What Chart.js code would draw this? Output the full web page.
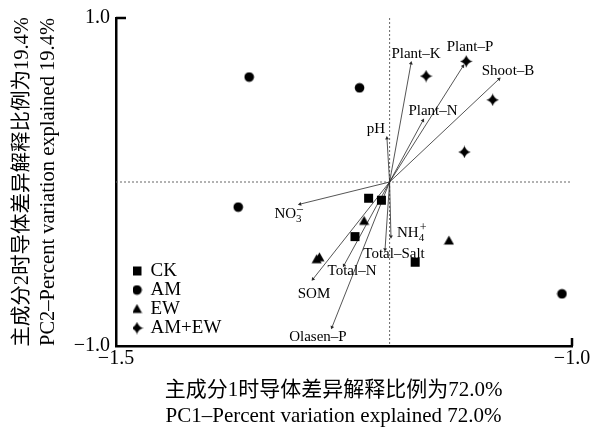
<!DOCTYPE html>
<html>
<head>
<meta charset="utf-8">
<script src="https://cdn.jsdelivr.net/npm/chart.js@4.4.0/dist/chart.umd.min.js"></script>
<style>
  body { margin: 0; background: #fff; }
  canvas { display: block; }
</style>
</head>
<body>
<canvas id="pca" width="592" height="437"></canvas>
<script>
// Sample scores per treatment (PC1, PC2)
const groups = ['CK', 'AM', 'EW', 'AM+EW'];
const ckPC1 = [-1.223, -1.209, -1.238, -1.172];
const ckPC2 = [-0.099, -0.111, -0.333, -0.489];
const amPC1 = [-1.354, -1.233, -1.366, -1.011];
const amPC2 = [0.640, 0.574, -0.153, -0.682];
const ewPC1 = [-1.228, -1.135, -1.280, -1.277];
const ewPC2 = [-0.237, -0.357, -0.471, -0.459];
const amewPC1 = [-1.116, -1.160, -1.087, -1.118];
const amewPC2 = [0.736, 0.646, 0.501, 0.183];

// Environmental loading vectors, drawn from the origin
const origin = [-1.2, 0];
const vecNames = ['Plant-K', 'Plant-P', 'Shoot-B', 'Plant-N', 'pH', 'NO3-', 'NH4+',
                  'Total-Salt', 'Total-N', 'SOM', 'Olasen-P'];
const vecPC1 = [-1.1765, -1.1195, -1.080, -1.1634, -1.2029, -1.2982, -1.1985,
                -1.2050, -1.250, -1.284, -1.2632];
const vecPC2 = [0.724, 0.706, 0.628, 0.375, 0.267, -0.135, -0.333,
                -0.411, -0.508, -0.592, -0.886];

// Axis ticks
const xTicks = [-1.5, -1.0];
const yTicks = [-1.0, 1.0];

const SERIF = "'Liberation Serif', 'Noto Sans CJK SC', serif";

// label offsets from the arrow tip, in pixels
const labelShift = [[5, -9], [7, -19], [9, -8], [10, -9], [-11, -9], [-12, 10],
                    [20, -4], [9, 5], [8, 6], [1, 15], [-14, 10]];

// Marker glyphs as small canvases
function marker(kind) {
  const s = kind === 'star' ? 13 : 11;
  const c = document.createElement('canvas');
  c.width = c.height = s;
  const g = c.getContext('2d');
  const m = s / 2;
  g.fillStyle = '#000';
  g.beginPath();
  if (kind === 'rect') {
    g.rect(m - 4.5, m - 4.5, 9, 9);
  } else if (kind === 'circle') {
    g.arc(m, m, 4.8, 0, Math.PI * 2);
  } else if (kind === 'triangle') {
    g.moveTo(m, m - 5);
    g.lineTo(m + 5, m + 4);
    g.lineTo(m - 5, m + 4);
    g.closePath();
  } else {
    const R = 6.3, r = 1.4;
    g.moveTo(m, m - R);
    g.quadraticCurveTo(m + r, m - r, m + R, m);
    g.quadraticCurveTo(m + r, m + r, m, m + R);
    g.quadraticCurveTo(m - r, m + r, m - R, m);
    g.quadraticCurveTo(m - r, m - r, m, m - R);
  }
  g.fill();
  return c;
}

const toPts = (xs, ys) => xs.map((v, i) => ({x: v, y: ys[i]}));
const fmt = v => v.toFixed(1).replace('-', '\u2212');

const groupSets = [
  [ckPC1, ckPC2, 'rect'],
  [amPC1, amPC2, 'circle'],
  [ewPC1, ewPC2, 'triangle'],
  [amewPC1, amewPC2, 'star']
].map(([xs, ys, kind], i) => ({
  label: groups[i],
  data: toPts(xs, ys),
  pointStyle: marker(kind),
  backgroundColor: '#000',
  borderColor: '#000'
}));

// arrow direction in pixel space, for rotating the arrowhead
function arrowAngle(ctx, i) {
  const {x, y} = ctx.chart.scales;
  const dx = x.getPixelForValue(vecPC1[i]) - x.getPixelForValue(origin[0]);
  const dy = y.getPixelForValue(vecPC2[i]) - y.getPixelForValue(origin[1]);
  return Math.atan2(dx, -dy) * 180 / Math.PI;
}

const vectorSets = vecNames.map((name, i) => ({
  label: name,
  data: [{x: origin[0], y: origin[1]}, {x: vecPC1[i], y: vecPC2[i]}],
  showLine: true,
  borderColor: '#2a2a2a',
  borderWidth: 0.8,
  pointStyle: 'triangle',
  pointRadius: [0, 2.2],
  pointBackgroundColor: '#2a2a2a',
  pointBorderWidth: 0,
  pointRotation: ctx => arrowAngle(ctx, i)
}));

const refLines = [
  {data: [{x: origin[0], y: 1}, {x: origin[0], y: -1}]},
  {data: [{x: -1.5, y: origin[1]}, {x: -1.0, y: origin[1]}]}
].map(d => Object.assign(d, {
  label: 'ref',
  showLine: true,
  borderColor: '#666',
  borderWidth: 1,
  borderDash: [2, 2],
  pointRadius: 0
}));

// small inward end ticks: top of the y axis, right end of the x axis
const cornerTicks = {
  id: 'cornerTicks',
  afterDraw(chart) {
    const {ctx, chartArea: a} = chart;
    ctx.save();
    ctx.strokeStyle = '#000';
    ctx.lineWidth = 2.5;
    ctx.beginPath();
    ctx.moveTo(a.left, a.top);
    ctx.lineTo(a.left + 10, a.top);
    ctx.moveTo(a.right, a.bottom);
    ctx.lineTo(a.right, a.bottom - 8);
    ctx.stroke();
    ctx.restore();
  }
};

function drawIon(ctx, m, cx, cy) {
  const sign = m[3] === '-' ? '\u2013' : '+';
  ctx.font = '15px ' + SERIF;
  const base = ctx.measureText(m[1]).width;
  ctx.font = '11px ' + SERIF;
  const small = Math.max(ctx.measureText(m[2]).width, ctx.measureText(sign).width);
  const x0 = cx - (base + small) / 2;
  ctx.textAlign = 'left';
  ctx.font = '15px ' + SERIF;
  ctx.fillText(m[1], x0, cy);
  ctx.font = '11px ' + SERIF;
  ctx.fillText(m[2], x0 + base, cy + 5);
  ctx.font = '12px ' + SERIF;
  ctx.fillText(sign, x0 + base + 1, cy - 5);
  ctx.textAlign = 'center';
}

const vecLabels = {
  id: 'vecLabels',
  afterDatasetsDraw(chart) {
    const {ctx, scales: {x, y}} = chart;
    ctx.save();
    ctx.fillStyle = '#000';
    ctx.textAlign = 'center';
    ctx.textBaseline = 'middle';
    vecNames.forEach((name, i) => {
      const px = x.getPixelForValue(vecPC1[i]) + labelShift[i][0];
      const py = y.getPixelForValue(vecPC2[i]) + labelShift[i][1];
      const ion = name.match(/^(N[OH])(\d)([+-])$/);
      if (ion) {
        drawIon(ctx, ion, px, py);
      } else {
        ctx.font = '15px ' + SERIF;
        ctx.fillText(name.replace('-', '\u2013'), px, py);
      }
    });
    ctx.restore();
  }
};

// legend sits in the lower-left corner of the plot area
const legendPlace = {
  id: 'legendPlace',
  afterLayout(chart) {
    const lg = chart.legend, a = chart.chartArea;
    lg.left = a.left + 17;
    lg.right = a.right;
    lg.top = a.top;
    lg.bottom = a.bottom - 8.5;
  }
};

new Chart(document.getElementById('pca'), {
  type: 'scatter',
  data: {datasets: [...groupSets, ...vectorSets, ...refLines]},
  options: {
    responsive: false,
    animation: false,
    layout: {padding: {top: 13, right: 20, left: 0, bottom: 0}},
    plugins: {
      tooltip: {enabled: false},
      legend: {
        position: 'chartArea',
        align: 'end',
        labels: {
          filter: item => item.datasetIndex < 4,
          usePointStyle: true,
          boxWidth: 8,
          boxHeight: 8,
          padding: 0,
          color: '#000',
          font: {family: SERIF, size: 19}
        }
      }
    },
    scales: {
      x: {
        type: 'linear',
        min: -1.5,
        max: -1.0,
        afterBuildTicks: s => { s.ticks = xTicks.map(v => ({value: v})); },
        afterFit: s => { s.height = 91; },
        grid: {display: false, drawTicks: false},
        border: {display: true, color: '#000', width: 2.5},
        ticks: {
          padding: 1,
          color: '#000',
          font: {family: SERIF, size: 20, lineHeight: 1.2},
          maxRotation: 0,
          callback: v => fmt(v)
        },
        title: {
          display: true,
          text: ['主成分1时导体差异解释比例为72.0%\u00a0\u00a0\u00a0\u00a0',
                 'PC1\u2013Percent variation explained 72.0%\u00a0\u00a0\u00a0\u00a0'],
          color: '#000',
          font: {family: SERIF, size: 21, lineHeight: 1.27},
          padding: {top: 0, bottom: 7}
        }
      },
      y: {
        type: 'linear',
        min: -1,
        max: 1,
        afterBuildTicks: s => { s.ticks = yTicks.map(v => ({value: v})); },
        afterFit: s => { s.width = 116; },
        grid: {display: false, drawTicks: false},
        border: {display: true, color: '#000', width: 2.5},
        ticks: {
          padding: 6,
          color: '#000',
          font: {family: SERIF, size: 20, lineHeight: 1.2},
          callback: v => fmt(v)
        },
        title: {
          display: true,
          text: ['主成分2时导体差异解释比例为19.4%',
                 'PC2\u2013Percent variation explained 19.4%'],
          color: '#000',
          font: {family: SERIF, size: 20.5, lineHeight: 1.3},
          padding: {top: 9, bottom: 0}
        }
      }
    }
  },
  plugins: [cornerTicks, vecLabels, legendPlace]
});
</script>
</body>
</html>
